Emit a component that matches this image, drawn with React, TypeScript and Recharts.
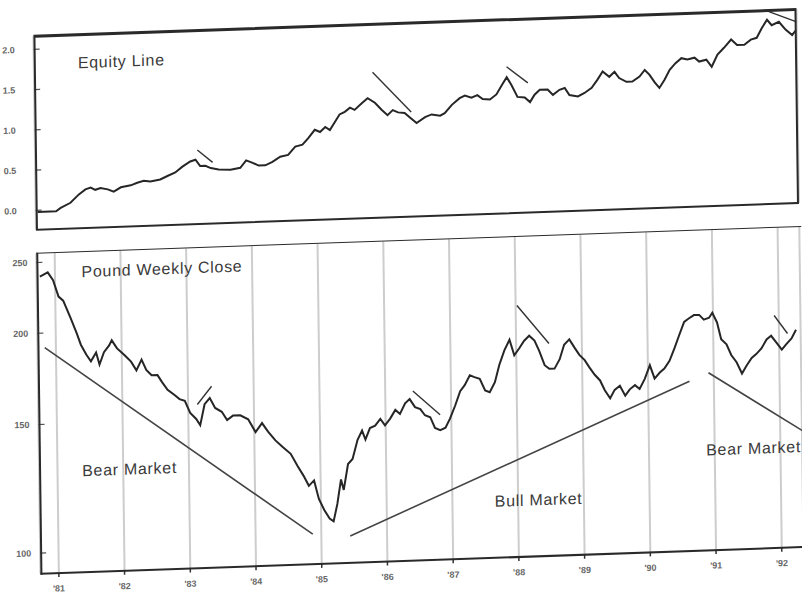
import React from 'react';
import { LineChart, Line, XAxis, YAxis, CartesianGrid, ReferenceLine } from 'recharts';

// years on the bottom axis, '81 .. '92
const yearTicks = [1981, 1982, 1983, 1984, 1985, 1986, 1987, 1988, 1989, 1990, 1991, 1992];
const yearLabels = ["'81", "'82", "'83", "'84", "'85", "'86", "'87", "'88", "'89", "'90", "'91", "'92"];

const equityTicks = [0, 0.5, 1, 1.5, 2];
const equityTickLabels = ['0.0', '0.5', '1.0', '1.5', '2.0'];

const poundTicks = [1.0, 1.5, 2.0, 2.5];
const poundTickLabels = ['100', '150', '200', '250'];

// [year, equity]
const equityPoints: [number, number][] = [
    [1980.75, -0.02], [1981.03, -0.02], [1981.10, 0.02], [1981.25, 0.08], [1981.38, 0.18], [1981.48, 0.24],
    [1981.56, 0.26], [1981.63, 0.23], [1981.71, 0.25], [1981.82, 0.23], [1981.91, 0.20], [1982.02, 0.25],
    [1982.17, 0.27], [1982.27, 0.30], [1982.37, 0.32], [1982.47, 0.31], [1982.62, 0.33], [1982.73, 0.37],
    [1982.85, 0.41], [1982.96, 0.48], [1983.08, 0.54], [1983.16, 0.56], [1983.23, 0.48], [1983.31, 0.48],
    [1983.39, 0.45], [1983.51, 0.43], [1983.69, 0.42], [1983.84, 0.44], [1983.93, 0.53], [1984.02, 0.50],
    [1984.12, 0.46], [1984.22, 0.46], [1984.33, 0.50], [1984.45, 0.56], [1984.57, 0.58], [1984.68, 0.68],
    [1984.79, 0.70], [1984.88, 0.78], [1984.98, 0.88], [1985.06, 0.85], [1985.14, 0.91], [1985.21, 0.87],
    [1985.29, 0.97], [1985.36, 1.06], [1985.44, 1.09], [1985.52, 1.14], [1985.59, 1.11], [1985.70, 1.19],
    [1985.79, 1.25], [1985.90, 1.19], [1986.00, 1.10], [1986.09, 1.03], [1986.17, 1.09], [1986.25, 1.06],
    [1986.35, 1.05], [1986.43, 0.99], [1986.53, 0.92], [1986.66, 0.99], [1986.76, 1.02], [1986.89, 1.00],
    [1986.96, 1.03], [1987.07, 1.13], [1987.19, 1.21], [1987.27, 1.24], [1987.37, 1.21], [1987.46, 1.24],
    [1987.54, 1.19], [1987.65, 1.18], [1987.75, 1.24], [1987.84, 1.36], [1987.91, 1.45], [1987.98, 1.35],
    [1988.07, 1.20], [1988.18, 1.19], [1988.26, 1.13], [1988.33, 1.22], [1988.41, 1.28], [1988.53, 1.28],
    [1988.61, 1.21], [1988.71, 1.27], [1988.79, 1.29], [1988.86, 1.20], [1988.99, 1.18], [1989.09, 1.22],
    [1989.20, 1.28], [1989.29, 1.38], [1989.37, 1.48], [1989.47, 1.41], [1989.55, 1.47], [1989.62, 1.39],
    [1989.73, 1.34], [1989.82, 1.34], [1989.93, 1.40], [1990.01, 1.48], [1990.08, 1.42], [1990.16, 1.32],
    [1990.23, 1.25], [1990.31, 1.35], [1990.39, 1.47], [1990.48, 1.55], [1990.57, 1.61], [1990.66, 1.59],
    [1990.77, 1.61], [1990.84, 1.56], [1990.95, 1.58], [1991.03, 1.49], [1991.12, 1.64], [1991.22, 1.72],
    [1991.33, 1.82], [1991.42, 1.75], [1991.53, 1.75], [1991.63, 1.81], [1991.72, 1.83], [1991.80, 1.95],
    [1991.88, 2.05], [1991.95, 1.98], [1992.06, 2.02], [1992.16, 1.92], [1992.26, 1.85], [1992.32, 1.91],
];

// [year, pound close in $]
const poundPoints: [number, number][] = [
    [1980.77, 2.39], [1980.89, 2.42], [1980.97, 2.36], [1981.05, 2.24], [1981.12, 2.21], [1981.23, 2.09],
    [1981.32, 1.99], [1981.38, 1.92], [1981.46, 1.86], [1981.53, 1.82], [1981.61, 1.87], [1981.66, 1.80],
    [1981.73, 1.87], [1981.81, 1.91], [1981.85, 1.94], [1981.93, 1.89], [1982.04, 1.85], [1982.14, 1.81],
    [1982.22, 1.76], [1982.30, 1.82], [1982.37, 1.76], [1982.45, 1.73], [1982.54, 1.73], [1982.61, 1.69],
    [1982.69, 1.65], [1982.80, 1.62], [1982.87, 1.60], [1982.95, 1.59], [1983.03, 1.53], [1983.12, 1.50],
    [1983.18, 1.47], [1983.25, 1.57], [1983.33, 1.60], [1983.41, 1.55], [1983.51, 1.53], [1983.59, 1.49],
    [1983.68, 1.51], [1983.79, 1.51], [1983.91, 1.49], [1984.02, 1.43], [1984.12, 1.47], [1984.21, 1.43],
    [1984.32, 1.39], [1984.43, 1.36], [1984.55, 1.33], [1984.65, 1.28], [1984.74, 1.24], [1984.82, 1.20],
    [1984.90, 1.22], [1984.97, 1.15], [1985.05, 1.11], [1985.13, 1.08], [1985.19, 1.07], [1985.25, 1.13],
    [1985.31, 1.22], [1985.35, 1.18], [1985.42, 1.28], [1985.49, 1.30], [1985.57, 1.38], [1985.64, 1.42],
    [1985.69, 1.38], [1985.76, 1.43], [1985.84, 1.44], [1985.92, 1.47], [1985.99, 1.44], [1986.07, 1.47],
    [1986.15, 1.51], [1986.22, 1.49], [1986.30, 1.54], [1986.37, 1.56], [1986.45, 1.52], [1986.53, 1.51],
    [1986.60, 1.48], [1986.68, 1.47], [1986.75, 1.42], [1986.83, 1.41], [1986.91, 1.42], [1986.98, 1.46],
    [1987.06, 1.52], [1987.14, 1.59], [1987.21, 1.62], [1987.29, 1.67], [1987.36, 1.66], [1987.44, 1.65],
    [1987.52, 1.59], [1987.59, 1.58], [1987.67, 1.63], [1987.74, 1.72], [1987.82, 1.80], [1987.90, 1.86],
    [1987.97, 1.77], [1988.05, 1.81], [1988.12, 1.85], [1988.20, 1.88], [1988.28, 1.85], [1988.35, 1.79],
    [1988.43, 1.71], [1988.50, 1.69], [1988.58, 1.69], [1988.66, 1.74], [1988.73, 1.82], [1988.81, 1.85],
    [1988.89, 1.80], [1988.96, 1.76], [1989.04, 1.73], [1989.11, 1.69], [1989.19, 1.65], [1989.27, 1.62],
    [1989.34, 1.57], [1989.42, 1.53], [1989.49, 1.57], [1989.57, 1.59], [1989.65, 1.54], [1989.72, 1.57],
    [1989.80, 1.59], [1989.87, 1.57], [1989.95, 1.62], [1990.03, 1.69], [1990.10, 1.62], [1990.18, 1.65],
    [1990.25, 1.67], [1990.33, 1.71], [1990.41, 1.78], [1990.48, 1.85], [1990.56, 1.93], [1990.63, 1.95],
    [1990.71, 1.97], [1990.79, 1.97], [1990.86, 1.94], [1990.94, 1.95], [1990.99, 1.98], [1991.06, 1.92],
    [1991.12, 1.82], [1991.20, 1.79], [1991.27, 1.73], [1991.35, 1.69], [1991.43, 1.63], [1991.50, 1.67],
    [1991.58, 1.71], [1991.65, 1.73], [1991.73, 1.76], [1991.81, 1.81], [1991.88, 1.83], [1991.96, 1.79],
    [1992.04, 1.75], [1992.11, 1.78], [1992.19, 1.81], [1992.26, 1.86],
];

// hand-drawn marks: [x1, y1, x2, y2]
const equityMarks: [number, number, number, number][] = [
    [1983.19, 0.68, 1983.42, 0.52],
    [1985.87, 1.57, 1986.45, 1.06],
    [1987.91, 1.58, 1988.23, 1.37],
    [1991.91, 2.15, 1992.33, 2.01],
];
const poundTrendLines: [number, number, number, number][] = [
    [1980.83, 1.91, 1984.87, 1.03],
    [1985.44, 1.02, 1990.63, 1.60],
    [1990.92, 1.64, 1992.35, 1.35],
];
const poundMarks: [number, number, number, number][] = [
    [1983.14, 1.57, 1983.36, 1.66],
    [1986.42, 1.6, 1986.83, 1.48],
    [1988.02, 2.07, 1988.50, 1.83],
    [1991.93, 1.95, 1992.13, 1.84],
];

const equityData = equityPoints.map(([t, v]) => ({ t, v }));
const poundData = poundPoints.map(([t, v]) => ({ t, v }));

const xDomain = [1980.72, 1992.33];
const font = '"Liberation Sans", Arial, sans-serif';

const SideTick = (props: any) => {
    const { x, y, payload, ticks, labels, gap } = props;
    const label = labels[ticks.indexOf(payload.value)];
    return (
        <g>
            <text x={x} y={y} dy={3} textAnchor="end" fontSize={9} fontWeight="bold" fill="#666" fontFamily={font}>
                {label}
            </text>
            <line x1={x + gap} x2={x + gap + 6} y1={y} y2={y} stroke="#555" strokeWidth={1.2} />
        </g>
    );
};

const labelStyle: React.CSSProperties = {
    position: 'absolute',
    fontFamily: font,
    fontSize: 16,
    lineHeight: '16px',
    letterSpacing: 0.7,
    color: '#3a3a3a',
    whiteSpace: 'nowrap',
};

const segs = (list: [number, number, number, number][], color: string, w: number) =>
    list.map(([x1, y1, x2, y2], i) => (
        <ReferenceLine
            key={i}
            segment={[{ x: x1, y: y1 }, { x: x2, y: y2 }]}
            stroke={color}
            strokeWidth={w}
            ifOverflow="hidden"
        />
    ));

export default function App() {
    return (
        <div
            style={{
                position: 'absolute', left: 0, top: 0, width: 802, height: 595, overflow: 'hidden',
                background: '#fff', fontFamily: font,
            }}
        >
            <div
                style={{
                    position: 'absolute', left: 0, top: 0, width: 802, height: 595,
                    transform: 'matrix(1, -0.035, 0.013, 1, 0, 0)', transformOrigin: '401px 297px',
                }}
            >
                {/* equity panel */}
                <div style={{ position: 'absolute', left: 0, top: 0 }}>
                    <LineChart width={802} height={230} data={equityData} margin={{ top: 23, right: 2, bottom: 13, left: 7 }}>
                        <CartesianGrid horizontal={false} stroke="#cdcdcd" strokeWidth={2} />
                        <XAxis dataKey="t" type="number" domain={xDomain} ticks={yearTicks} allowDataOverflow
                            height={0} tick={false} axisLine={false} tickLine={false} />
                        <YAxis type="number" domain={[-0.24, 2.17]} ticks={equityTicks} allowDataOverflow width={30}
                            axisLine={false} tickLine={false} tickSize={0} tickMargin={19}
                            tick={(p: any) => <SideTick {...p} ticks={equityTicks} labels={equityTickLabels} gap={19} />} />
                        <Line dataKey="v" type="linear" stroke="#262626" strokeWidth={2} dot={false} isAnimationActive={false} />
                        {segs(equityMarks, '#333', 1.4)}
                    </LineChart>
                    <div style={{
                        position: 'absolute', left: 37, top: 22, width: 763, height: 196, boxSizing: 'border-box',
                        borderTop: '3px solid #2a2a2a', borderLeft: '2px solid #2a2a2a', borderRight: '2px solid #2a2a2a',
                        borderBottom: '2px solid #2a2a2a', pointerEvents: 'none',
                    }} />
                </div>

                {/* pound panel */}
                <div style={{ position: 'absolute', left: 0, top: 225 }}>
                    <LineChart width={802} height={370} data={poundData} margin={{ top: 16, right: 2, bottom: 4, left: 7 }}>
                        <CartesianGrid horizontal={false} stroke="#cdcdcd" strokeWidth={2} />
                        <XAxis dataKey="t" type="number" domain={xDomain} ticks={yearTicks} allowDataOverflow height={30}
                            axisLine={false} tickSize={4} tickMargin={8} tickLine={{ stroke: '#333', strokeWidth: 1.5 }}
                            tickFormatter={(v: number) => yearLabels[yearTicks.indexOf(v)]}
                            tick={{ fontSize: 9, fill: '#666', fontWeight: 'bold', fontFamily: font }} />
                        <YAxis type="number" scale="log" domain={[0.937, 2.57]} ticks={poundTicks} allowDataOverflow width={30}
                            axisLine={false} tickLine={false} tickSize={0} tickMargin={9}
                            tick={(p: any) => <SideTick {...p} ticks={poundTicks} labels={poundTickLabels} gap={9} />} />
                        <Line dataKey="v" type="linear" stroke="#262626" strokeWidth={2} dot={false} isAnimationActive={false} />
                        {segs(poundTrendLines, '#444', 1.6)}
                        {segs(poundMarks, '#333', 1.4)}
                    </LineChart>
                    <div style={{
                        position: 'absolute', left: 37, top: 15, width: 765, height: 322, boxSizing: 'border-box',
                        borderTop: '1.5px solid #2a2a2a', borderLeft: '2px solid #2a2a2a',
                        borderBottom: '2px solid #2a2a2a', pointerEvents: 'none',
                    }} />
                </div>

                <div style={{ ...labelStyle, left: 81, top: 44 }}>Equity Line</div>
                <div style={{ ...labelStyle, left: 82, top: 253 }}>Pound Weekly Close</div>
                <div style={{ ...labelStyle, left: 80, top: 452 }}>Bear Market</div>
                <div style={{ ...labelStyle, left: 492, top: 497 }}>Bull Market</div>
                <div style={{ ...labelStyle, left: 704, top: 453 }}>Bear Market</div>
            </div>
        </div>
    );
}
